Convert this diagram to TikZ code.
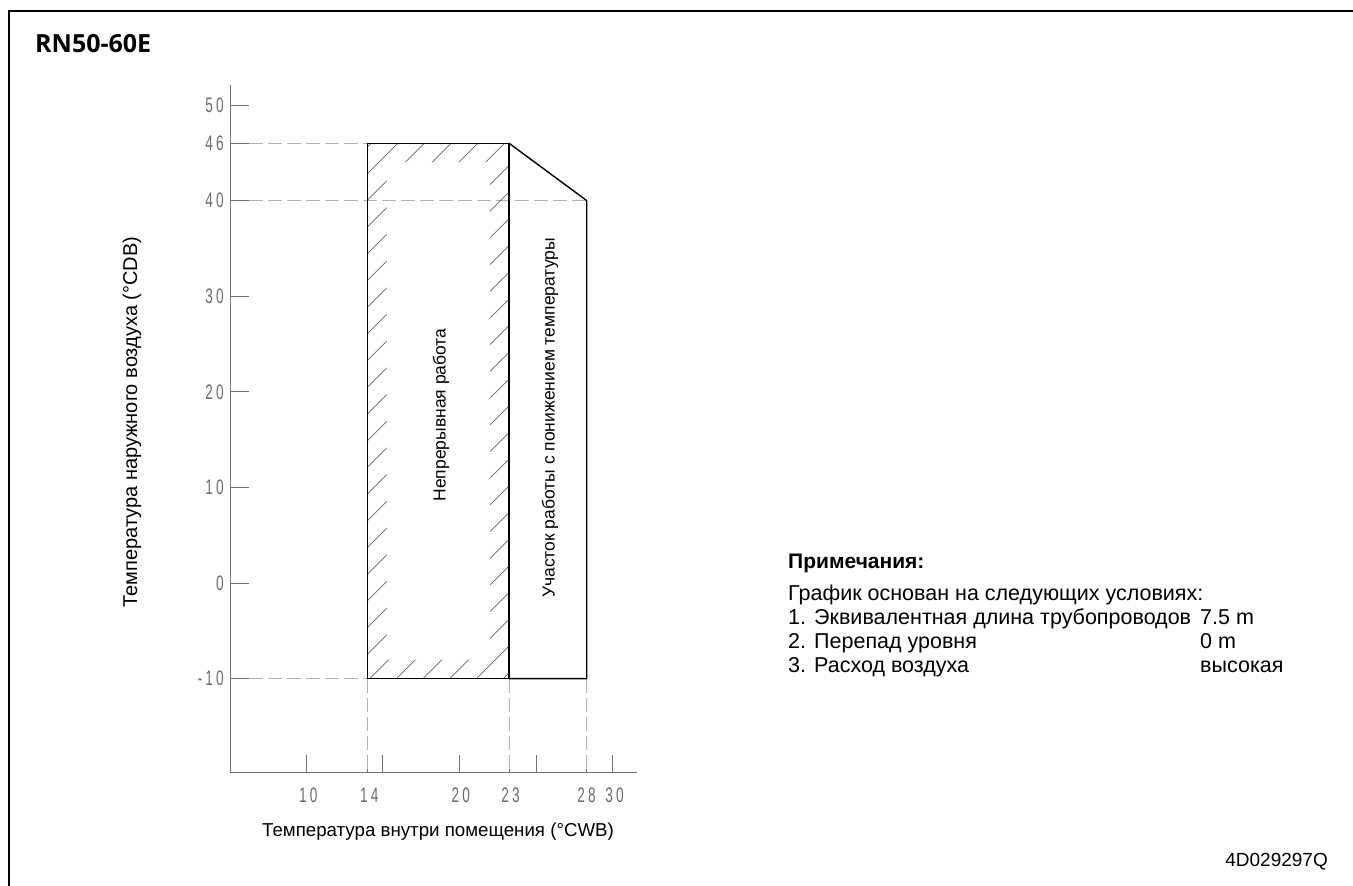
\documentclass[tikz,border=0pt]{standalone}
\usepackage{fontspec}
\setmainfont{Liberation Sans}
\newfontfamily\titlefont{Open Sans}
\newfontfamily\tickfont[FakeStretch=0.65,LetterSpace=15]{Liberation Sans}
\usetikzlibrary{positioning,calc}

\begin{document}
\begin{tikzpicture}[x=1pt,y=-1pt,
  frameline/.style={line width=2.5pt},
  axisline/.style={gray!90!black, line width=0.9pt},
  dashline/.style={gray!60, line width=0.9pt, dash pattern=on 14pt off 5pt},
  zoneline/.style={black, line width=1.4pt},
  hatchline/.style={gray!80!black, line width=0.7pt},
  ticklab/.style={gray!85!black, font=\tickfont\fontsize{21}{21}\selectfont, inner sep=0pt},
  plainlab/.style={font=\fontsize{17.5}{20}\selectfont, inner sep=0pt},
  notelab/.style={font=\fontsize{21.5}{24}\selectfont, inner sep=0pt, anchor=base west}]

\useasboundingbox (0,0) rectangle (1353,886);

% Frame and title
\draw[frameline] (9,890) -- (9,11) -- (1358,11);
\node[anchor=base west, inner sep=0pt, font=\titlefont\bfseries\fontsize{25}{28}\selectfont] (title) at (35,52) {RN50-60E};

% Axes
\coordinate (O) at (230,772);
\coordinate (ytop) at (230,85);
\coordinate (xend) at (637,772);
\draw[axisline] (ytop) -- (O) -- (xend);

% Y ticks
\foreach \v/\txt in {50/50,46/46,40/40,30/30,20/20,10/10,0/0,-10/-10} {
  \pgfmathsetmacro\py{105+(50-\v)*9.56}
  \draw[axisline] (230,\py) -- (249,\py);
  \node[ticklab, anchor=east] (ytick\txt) at (224,\py) {\txt};
}

% X ticks
\foreach \px in {306.7,367.7,382.7,459.3,509,536.7,586.7,612.3}
  \draw[axisline] (\px,772) -- (\px,755);
\foreach \px/\txt in {306.7/10,367.7/14,459.3/20,509/23,585/28,613/30}
  \node[ticklab] (xtick\txt) at (\px+1.5,795) {\txt};

% Zone corners
\coordinate (A) at (367.7,143.2);
\coordinate (B) at (509,143.2);
\coordinate (C) at (509,678.6);
\coordinate (D) at (367.7,678.6);
\coordinate (E) at (586.7,200.6);
\coordinate (G) at (586.7,678.6);

% Guide lines
\draw[dashline] (249,143.2) -- (A);
\draw[dashline] (249,200.6) -- (E);
\draw[dashline] (249,678.6) -- (D);
\draw[dashline] (D) -- (D |- O);
\draw[dashline] (C) -- (C |- O);
\draw[dashline] (G) -- (G |- O);

% Hatched band
\begin{scope}[even odd rule]
  \clip (A) rectangle (C) ($(A)+(19,19)$) rectangle ($(C)+(-19,-19)$);
  \foreach \k in {0,...,27}
    \draw[hatchline] ({487.6+26.7*\k-700},700) -- ({487.6+26.7*\k-130},130);
\end{scope}

% Zones
\draw[zoneline] (A) -- (B) -- (C) -- (D) -- cycle;
\draw[zoneline] (B) -- (E) -- (G) -- (C);
\node[plainlab, rotate=90] (contlab) at (441,415) {Непрерывная работа};
\node[plainlab, rotate=90] (deratelab) at (550,418) {Участок работы с понижением температуры};

% Axis titles
\node[plainlab, rotate=90, font=\fontsize{20}{22}\selectfont] (ylab) at (132,422) {Температура наружного воздуха (°CDB)};
\node[plainlab, font=\fontsize{18.7}{22}\selectfont] (xlab) at (438,832) {Температура внутри помещения (°CWB)};

% Notes
\node[notelab, font=\bfseries\fontsize{21}{24}\selectfont] (notehead) at (788,568) {Примечания:};
\node[notelab] (notebase) at (788,600) {График основан на следующих условиях:};
\node[notelab] (n1) at (788,624) {1.};
\node[notelab] (t1) at (814,624) {Эквивалентная длина трубопроводов};
\node[notelab] (v1) at (1200,624) {7.5 m};
\node[notelab] (n2) at (788,648) {2.};
\node[notelab] (t2) at (814,648) {Перепад уровня};
\node[notelab] (v2) at (1200,648) {0 m};
\node[notelab] (n3) at (788,672) {3.};
\node[notelab] (t3) at (814,672) {Расход воздуха};
\node[notelab] (v3) at (1200,672) {высокая};

% Drawing code
\node[plainlab, anchor=base east, font=\fontsize{19}{22}\selectfont] (docid) at (1328,866) {4D029297Q};
\end{tikzpicture}
\end{document}
